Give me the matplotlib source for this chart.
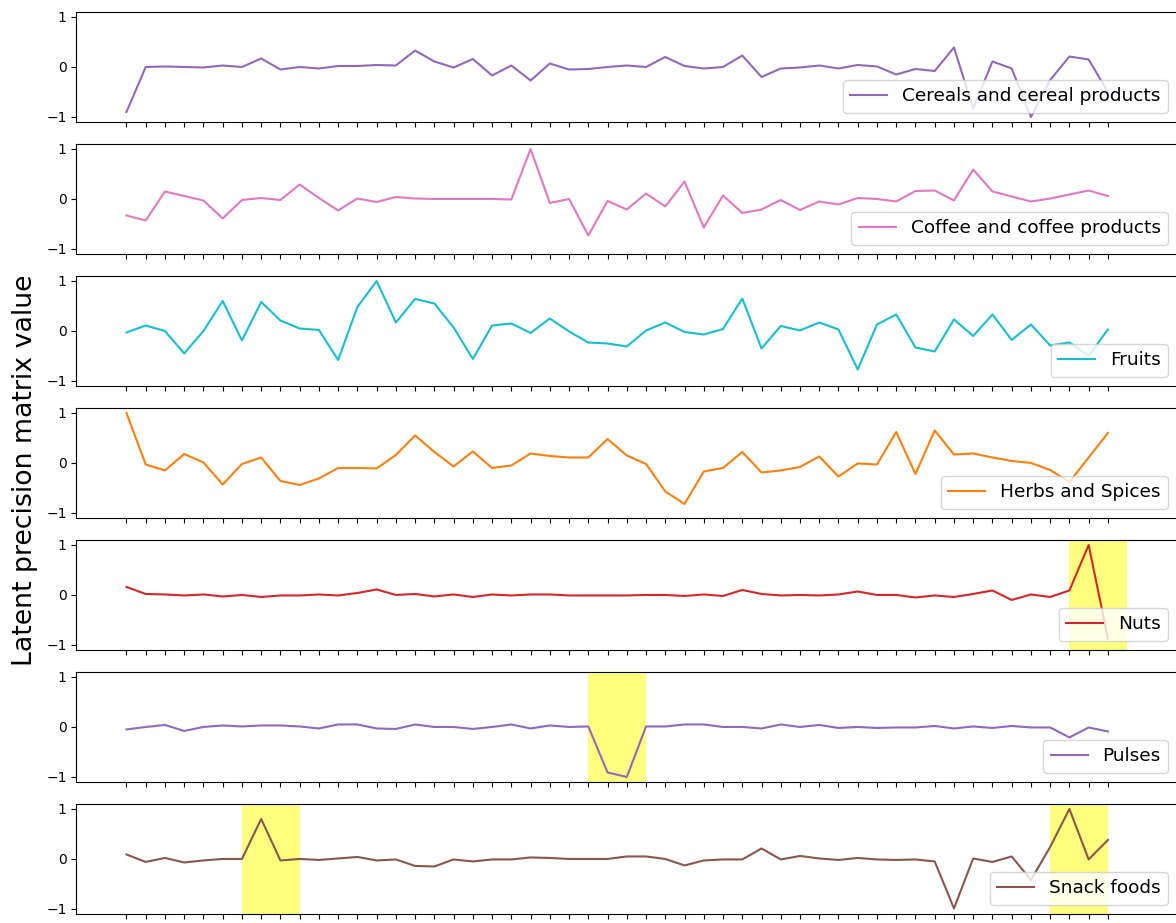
import numpy as np
import matplotlib
matplotlib.use("Agg")
import matplotlib.pyplot as plt

# food groups shown, one panel each
groups = ["Cereals and cereal products", "Coffee and coffee products", "Fruits",
          "Herbs and Spices", "Nuts", "Pulses", "Snack foods"]
colors = ["tab:purple", "tab:pink", "tab:cyan", "tab:orange", "tab:red",
          "tab:purple", "tab:brown"]

cereals = [-0.9, 0.0, 0.01, 0.0, -0.01, 0.03, 0.0, 0.17, -0.05, 0.0,
           -0.03, 0.02, 0.02, 0.04, 0.03, 0.33, 0.11, -0.01, 0.16, -0.17,
           0.03, -0.27, 0.07, -0.05, -0.04, 0.0, 0.03, 0.0, 0.2, 0.02,
           -0.03, 0.0, 0.23, -0.2, -0.03, -0.01, 0.03, -0.03, 0.04, 0.01,
           -0.15, -0.04, -0.08, 0.39, -0.83, 0.11, -0.03, -1.0, -0.26, 0.21,
           0.15, -0.5]
coffee = [-0.33, -0.43, 0.15, 0.06, -0.03, -0.39, -0.02, 0.02, -0.02, 0.29,
          0.02, -0.23, 0.01, -0.06, 0.04, 0.01, 0.0, 0.0, 0.0, 0.0,
          -0.01, 1.0, -0.08, 0.0, -0.73, -0.04, -0.21, 0.11, -0.15, 0.35,
          -0.57, 0.07, -0.28, -0.21, -0.02, -0.22, -0.05, -0.11, 0.02, 0.0,
          -0.05, 0.16, 0.17, -0.03, 0.59, 0.15, 0.05, -0.05, 0.01, 0.09,
          0.17, 0.06]
fruits = [-0.03, 0.11, 0.0, -0.45, 0.0, 0.6, -0.19, 0.58, 0.21, 0.05,
          0.02, -0.58, 0.48, 1.0, 0.17, 0.64, 0.55, 0.07, -0.56, 0.11,
          0.15, -0.04, 0.25, -0.01, -0.23, -0.25, -0.31, 0.01, 0.17, -0.02,
          -0.07, 0.04, 0.65, -0.35, 0.1, 0.01, 0.17, 0.03, -0.77, 0.13,
          0.33, -0.33, -0.41, 0.23, -0.1, 0.33, -0.18, 0.13, -0.29, -0.23,
          -0.5, 0.03]
herbs = [1.0, -0.03, -0.15, 0.18, 0.01, -0.43, -0.02, 0.11, -0.36, -0.44,
         -0.31, -0.1, -0.1, -0.11, 0.16, 0.55, 0.22, -0.07, 0.23, -0.1,
         -0.05, 0.19, 0.14, 0.11, 0.11, 0.48, 0.15, -0.02, -0.57, -0.82,
         -0.17, -0.1, 0.22, -0.19, -0.15, -0.08, 0.13, -0.27, -0.01, -0.03,
         0.62, -0.22, 0.65, 0.17, 0.19, 0.11, 0.04, 0.0, -0.14, -0.38,
         0.11, 0.6]
nuts = [0.16, 0.02, 0.01, -0.01, 0.01, -0.03, 0.0, -0.04, -0.01, -0.01,
        0.01, -0.01, 0.04, 0.11, 0.0, 0.02, -0.03, 0.01, -0.04, 0.01,
        -0.01, 0.01, 0.01, -0.01, -0.01, -0.01, -0.01, 0.0, 0.0, -0.02,
        0.01, -0.02, 0.1, 0.02, -0.01, 0.0, -0.01, 0.01, 0.07, 0.0,
        0.0, -0.05, -0.01, -0.04, 0.02, 0.09, -0.1, 0.01, -0.04, 0.09,
        1.0, -0.87]
pulses = [-0.05, 0.0, 0.04, -0.08, 0.0, 0.03, 0.01, 0.03, 0.03, 0.01,
          -0.03, 0.05, 0.05, -0.03, -0.04, 0.05, 0.0, 0.0, -0.04, 0.0,
          0.05, -0.03, 0.03, 0.0, 0.01, -0.91, -1.0, 0.01, 0.01, 0.05,
          0.05, 0.0, 0.0, -0.03, 0.05, 0.0, 0.04, -0.02, 0.0, -0.02,
          -0.01, -0.01, 0.02, -0.03, 0.01, -0.02, 0.02, -0.01, -0.01, -0.21,
          -0.01, -0.09]
snacks = [0.09, -0.06, 0.02, -0.07, -0.03, 0.0, 0.0, 0.8, -0.03, 0.0,
          -0.02, 0.01, 0.04, -0.03, -0.01, -0.14, -0.15, -0.01, -0.05, -0.01,
          -0.01, 0.03, 0.02, 0.0, 0.0, 0.0, 0.05, 0.05, 0.0, -0.13,
          -0.03, -0.01, -0.01, 0.21, -0.01, 0.06, 0.01, -0.02, 0.02, -0.01,
          -0.02, -0.01, -0.05, -0.99, 0.01, -0.06, 0.05, -0.42, 0.24, 1.0,
          -0.01, 0.38]

series = [cereals, coffee, fruits, herbs, nuts, pulses, snacks]

# highlighted index ranges per panel
spans = {4: [(49, 52)], 5: [(24, 27)], 6: [(6, 9), (48, 51)]}

x = np.arange(len(cereals))

fig, axes = plt.subplots(len(series), 1, figsize=(11.76, 9.23), dpi=100, sharex=True)
fig.subplots_adjust(left=0.065, right=1.001, top=0.987, bottom=0.0098, hspace=0.2)

for i, ax in enumerate(axes):
    for a, b in spans.get(i, []):
        ax.axvspan(a, b, color="yellow", alpha=0.5, lw=0)
    ax.plot(x, series[i], color=colors[i], label=groups[i])
    ax.set_ylim(-1.1, 1.1)
    ax.set_yticks([-1, 0, 1])
    ax.set_xticks(x)
    ax.tick_params(axis="x", labelbottom=False)
    ax.legend(loc="lower right", fontsize=13.3)

fig.text(0.01, 0.491, "Latent precision matrix value", rotation=90,
         ha="left", va="center", fontsize=19.3)

fig.savefig("out.png", dpi=100)
